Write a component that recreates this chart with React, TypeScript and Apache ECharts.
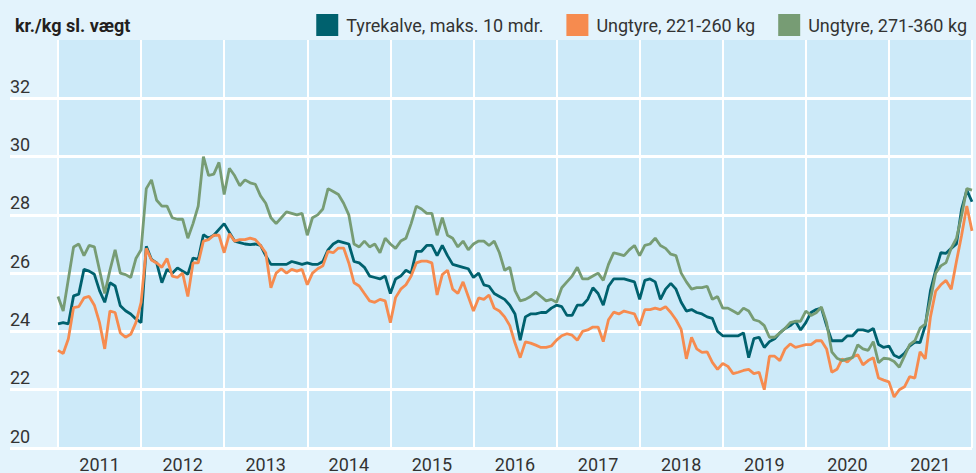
import React, { useEffect, useRef } from 'react';
import * as echarts from 'echarts';

const years = ['2011', '2012', '2013', '2014', '2015', '2016', '2017', '2018', '2019', '2020', '2021'];
const yTicks = [20, 22, 24, 26, 28, 30, 32];
const seriesNames = ['Tyrekalve, maks. 10 mdr.', 'Ungtyre, 221-260 kg', 'Ungtyre, 271-360 kg'];

// semi-monthly samples (16 per year), 2011 – end of 2021
const tyrekalve = [
  24.26, 24.3, 24.26, 25.22, 25.28, 26.13, 26.07, 25.96, 25.4, 25.0, 25.67, 25.56, 24.88, 24.71, 24.6, 24.43,
  24.3, 26.92, 26.47, 26.35, 25.67, 26.13, 26.0, 26.18, 26.07, 25.96, 26.52, 26.47, 27.32, 27.2, 27.3, 27.5,
  27.7, 27.4, 27.1, 27.05, 27.0, 26.98, 27.0, 26.95, 26.6, 26.3, 26.3, 26.3, 26.3, 26.4, 26.35, 26.3,
  26.35, 26.3, 26.3, 26.4, 26.8, 27.0, 27.1, 27.05, 27.0, 26.4, 26.35, 26.2, 25.9, 25.85, 25.8, 25.9,
  25.3, 25.8, 25.9, 26.1, 26.0, 26.75, 26.75, 26.95, 26.95, 26.6, 26.95, 26.6, 26.3, 26.25, 26.2, 26.15,
  25.85, 26.0, 25.6, 25.55, 25.3, 25.2, 25.1, 24.9, 24.6, 23.7, 24.5, 24.6, 24.6, 24.65, 24.65, 24.8,
  24.9, 24.85, 24.55, 24.55, 24.9, 24.9, 25.1, 25.5, 25.3, 24.9, 25.55, 25.8, 25.8, 25.8, 25.75, 25.7,
  25.1, 25.75, 25.8, 25.7, 25.1, 25.45, 25.65, 25.45, 25.0, 24.7, 24.75, 24.65, 24.6, 24.5, 24.45, 24.0,
  23.85, 23.85, 23.85, 23.85, 23.95, 23.1, 23.75, 23.8, 23.45, 23.65, 23.75, 23.95, 24.1, 24.2, 24.35, 24.05,
  24.3, 24.65, 24.75, 24.8, 24.2, 23.68, 23.68, 23.68, 23.85, 23.85, 24.05, 24.05, 24.0, 24.1, 23.55, 23.45,
  23.5, 23.18, 23.1, 23.25, 23.5, 23.63, 23.62, 24.2, 25.4, 26.1, 26.7, 26.68, 26.85, 27.0, 28.2, 28.85, 28.45,
];

const ungtyre221 = [
  23.35, 23.24, 23.75, 24.82, 24.85, 25.15, 25.2, 24.9, 24.3, 23.4, 24.7, 24.65, 23.95, 23.8, 23.9, 24.3,
  25.0, 26.85, 26.45, 26.35, 26.2, 26.5, 25.9, 25.85, 26.0, 25.2, 26.35, 26.35, 27.1, 27.15, 27.3, 27.3,
  26.7, 27.35, 27.1, 27.15, 27.15, 27.2, 27.15, 26.95, 26.7, 25.5, 26.0, 26.15, 26.0, 26.13, 26.07, 26.13,
  25.6, 26.0, 26.15, 26.25, 26.75, 26.7, 26.86, 26.86, 26.35, 25.67, 25.56, 25.3, 25.05, 25.0, 25.1, 25.05,
  24.3, 25.16, 25.45, 25.6, 25.9, 26.35, 26.41, 26.41, 26.35, 25.25, 25.95, 26.1, 25.45, 25.3, 25.7, 25.2,
  24.7, 25.15, 25.1, 25.25, 24.8, 24.7, 24.5, 24.2, 23.6, 23.1, 23.64, 23.6, 23.53, 23.45, 23.45, 23.5,
  23.7, 23.85, 23.92, 23.87, 23.7, 24.0, 24.05, 24.15, 24.15, 23.65, 24.4, 24.66, 24.6, 24.7, 24.65, 24.6,
  24.2, 24.75, 24.75, 24.8, 24.75, 24.85, 24.65, 24.4, 24.07, 23.06, 23.8, 23.4, 23.28, 23.3, 22.94, 22.7,
  22.9, 22.8, 22.55, 22.6, 22.66, 22.7, 22.55, 22.6, 22.0, 23.15, 23.15, 23.0, 23.4, 23.57, 23.45, 23.5,
  23.55, 23.55, 23.68, 23.68, 23.4, 22.6, 22.7, 23.06, 22.95, 23.12, 23.2, 22.85, 23.0, 23.1, 22.4, 22.33,
  22.27, 21.75, 22.0, 22.1, 22.45, 22.4, 23.3, 23.06, 24.5, 25.38, 25.6, 25.75, 25.45, 26.4, 27.3, 28.3, 27.45,
];

const ungtyre271 = [
  25.2, 24.7, 25.8, 26.9, 27.0, 26.6, 26.95, 26.9, 26.1, 25.3, 26.1, 26.8, 26.0, 25.95, 25.85, 26.5,
  26.8, 28.9, 29.2, 28.5, 28.3, 28.3, 27.9, 27.85, 27.85, 27.2, 27.7, 28.3, 30.0, 29.35, 29.4, 29.8,
  28.7, 29.6, 29.35, 29.0, 29.2, 29.1, 29.05, 28.65, 28.4, 27.9, 27.7, 27.9, 28.1, 28.05, 28.0, 28.05,
  27.3, 27.9, 28.0, 28.2, 28.9, 28.8, 28.7, 28.4, 28.0, 27.0, 26.9, 27.1, 26.9, 27.0, 26.7, 27.2,
  27.0, 26.85, 27.1, 27.2, 27.7, 28.3, 28.2, 28.05, 28.05, 27.3, 27.9, 27.3, 27.2, 26.9, 27.1, 26.8,
  27.0, 27.1, 27.1, 26.95, 27.1, 26.7, 26.1, 26.2, 25.4, 25.05, 25.1, 25.2, 25.35, 25.2, 25.05, 25.1,
  25.0, 25.5, 25.7, 25.9, 26.2, 25.8, 25.8, 25.9, 26.0, 25.75, 26.3, 26.7, 26.65, 26.6, 26.8, 26.95,
  26.6, 26.95, 27.0, 27.2, 26.95, 26.85, 26.65, 26.6, 26.0, 25.7, 25.45, 25.5, 25.5, 25.55, 25.1, 25.2,
  24.8, 24.8, 24.7, 24.6, 24.8, 24.7, 24.4, 24.35, 24.2, 23.8, 23.8, 23.95, 24.1, 24.3, 24.35, 24.35,
  24.7, 24.55, 24.64, 24.84, 24.3, 23.3, 23.08, 23.0, 23.06, 23.1, 23.54, 23.4, 23.35, 23.65, 22.93, 23.08,
  23.06, 22.97, 22.77, 23.15, 23.55, 23.68, 24.11, 24.25, 25.1, 26.0, 26.25, 26.36, 26.86, 27.19, 27.98, 28.9, 28.85,
];

const colors = ['#00616e', '#f68b4f', '#779c74'];
const FONT = 'Roboto, "Noto Sans", sans-serif';

export default function App() {
  const ref = useRef<HTMLDivElement>(null);

  useEffect(() => {
    if (!ref.current) return;
    const chart = echarts.init(ref.current, null, { renderer: 'svg' });
    const n = tyrekalve.length;
    const pairs = (arr: number[]) => arr.map((v, i) => [i, v]);
    const datasets = [tyrekalve, ungtyre221, ungtyre271];

    chart.setOption({
      animation: false,
      backgroundColor: '#e3f3fc',
      textStyle: { fontFamily: FONT },
      title: {
        text: 'kr./kg sl. vægt',
        left: 10,
        top: 11,
        textStyle: { fontFamily: FONT, fontSize: 18, fontWeight: 'bold', color: '#231f20' },
      },
      legend: {
        right: 4,
        top: 9,
        icon: 'rect',
        itemWidth: 22,
        itemHeight: 22,
        itemGap: 23,
        data: seriesNames,
        textStyle: { fontFamily: FONT, fontSize: 18, color: '#333', padding: [0, 0, 0, 3] },
      },
      grid: {
        left: 58,
        right: 4,
        top: 40,
        bottom: 24,
        show: true,
        backgroundColor: '#cdeaf9',
        borderWidth: 0,
      },
      xAxis: [
        {
          type: 'category',
          data: years,
          boundaryGap: true,
          axisLine: { show: false },
          axisTick: { show: false },
          axisLabel: { interval: 0, fontFamily: FONT, fontSize: 18, color: '#333', margin: 7 },
          splitLine: { show: true, interval: 0, lineStyle: { color: '#ffffff', width: 2 } },
        },
        {
          type: 'value',
          min: 0,
          max: n - 1,
          show: false,
          splitLine: { show: false },
        },
      ],
      yAxis: {
        type: 'value',
        min: 20,
        max: 34,
        interval: 2,
        axisLine: { show: false },
        axisTick: {
          show: true,
          customValues: yTicks,
          length: 48,
          lineStyle: { color: '#ffffff', width: 3 },
        },
        axisLabel: {
          customValues: yTicks,
          align: 'left',
          margin: 48,
          verticalAlign: 'bottom',
          padding: [0, 0, 3, 0],
          fontFamily: FONT,
          fontSize: 18,
          color: '#333',
          formatter: (v: number) => (v >= 34 ? '' : String(v)),
        },
        splitLine: {
          show: true,
          lineStyle: {
            color: ['#ffffff', '#ffffff', '#ffffff', '#ffffff', '#ffffff', '#ffffff', '#ffffff', 'rgba(0,0,0,0)'],
            width: 3,
          },
        },
      },
      series: datasets.map((d, i) => ({
        name: seriesNames[i],
        type: 'line',
        xAxisIndex: 1,
        yAxisIndex: 0,
        data: pairs(d),
        showSymbol: false,
        symbol: 'none',
        color: colors[i],
        lineStyle: { color: colors[i], width: 2.8 },
      })),
    });

    return () => chart.dispose();
  }, []);

  return <div ref={ref} style={{ position: 'fixed', left: 0, top: 0, width: 976, height: 473 }} />;
}
